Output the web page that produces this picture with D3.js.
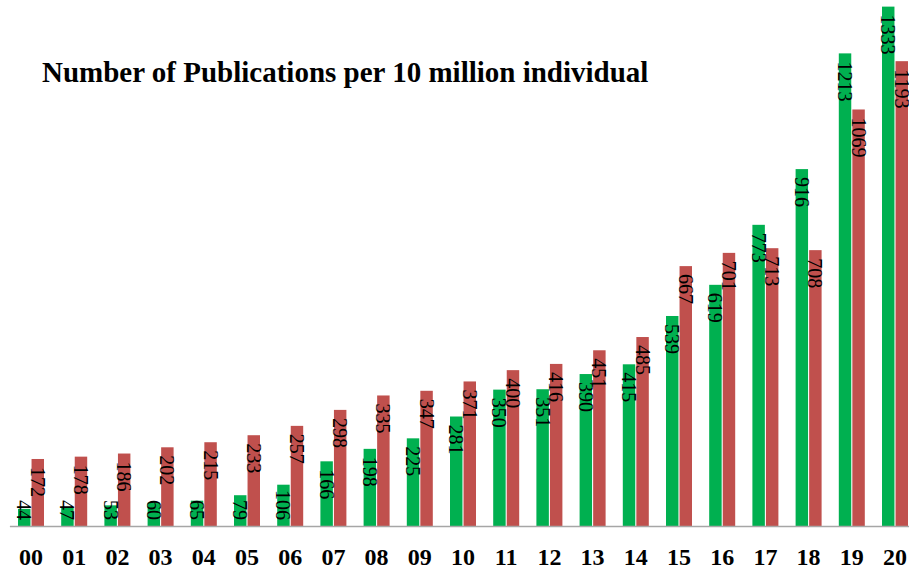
<!DOCTYPE html>
<html>
<head>
<meta charset="utf-8">
<script src="https://cdn.jsdelivr.net/npm/d3@7"></script>
<style>
  html, body { margin: 0; padding: 0; background: #fff; }
  svg { display: block; }
</style>
</head>
<body>
<div id="chart"></div>
<script>
// Years (two-digit) and the two series.
const years = ['00','01','02','03','04','05','06','07','08','09','10','11','12','13','14','15','16','17','18','19','20'];
const greenValues = [44, 47, 53, 60, 65, 79, 106, 166, 198, 225, 281, 350, 351, 390, 415, 539, 619, 773, 916, 1213, 1333];
const redValues = [172, 178, 186, 202, 215, 233, 257, 298, 335, 347, 371, 400, 416, 451, 485, 667, 701, 713, 708, 1069, 1193];
const seriesNames = ['green', 'red'];
const titleText = 'Number of Publications per 10 million individual';

(function(){
  const width = 909, height = 573;
  const baseline = 526;
  const colors = {green: '#00b050', red: '#c0504d'};

  const svg = d3.select('#chart').append('svg')
    .attr('width', width).attr('height', height);

  const x = d3.scaleBand().domain(years).range([9.4, 916.6]);
  const inner = d3.scaleBand().domain(seriesNames).range([x.bandwidth() / 2 - 13, x.bandwidth() / 2 + 13]).paddingInner(0.08);
  const y = d3.scaleLinear().domain([0, 1350]).range([baseline, 0]);

  const rows = years.map((yr, i) => ({year: yr, values: [
    {key: 'green', value: greenValues[i]},
    {key: 'red', value: redValues[i]}
  ]}));

  // Bars
  const groups = svg.append('g').selectAll('g.year')
    .data(rows).join('g')
    .attr('class', 'year')
    .attr('transform', d => `translate(${x(d.year)},0)`);

  groups.selectAll('rect')
    .data(d => d.values).join('rect')
    .attr('x', d => inner(d.key))
    .attr('width', inner.bandwidth())
    .attr('y', d => y(d.value))
    .attr('height', d => baseline - y(d.value))
    .attr('fill', d => colors[d.key]);

  // Rotated value labels near the top of each bar
  const labelSize = 20;
  groups.selectAll('text.val')
    .data(d => d.values).join('text')
    .attr('class', 'val')
    .attr('font-family', '"Liberation Serif", "Times New Roman", serif')
    .attr('font-size', labelSize)
    .attr('fill', '#000')
    .attr('dominant-baseline', 'central')
    .text(d => d.value)
    .each(function(d){
      const len = this.getComputedTextLength();
      const top = Math.min(y(d.value) + 8, baseline - len - 6);
      const cx = inner(d.key) + inner.bandwidth() / 2;
      d3.select(this).attr('transform', `translate(${cx},${top}) rotate(90)`);
    });

  // Baseline axis
  const axis = svg.append('g')
    .attr('transform', `translate(0,${baseline})`)
    .call(d3.axisBottom(x).tickSize(0).tickPadding(22));
  axis.select('.domain').attr('stroke', '#a6a6a6').attr('stroke-width', 1.5);
  axis.selectAll('.tick text')
    .attr('font-family', '"Liberation Serif", "Times New Roman", serif')
    .attr('font-weight', 'bold')
    .attr('font-size', 24)
    .attr('fill', '#000');

  // Title
  svg.append('text')
    .attr('x', 42)
    .attr('y', 82)
    .attr('font-family', '"Liberation Serif", "Times New Roman", serif')
    .attr('font-weight', 'bold')
    .attr('font-size', 29)
    .attr('fill', '#000')
    .text(titleText);
})();
</script>
</body>
</html>
